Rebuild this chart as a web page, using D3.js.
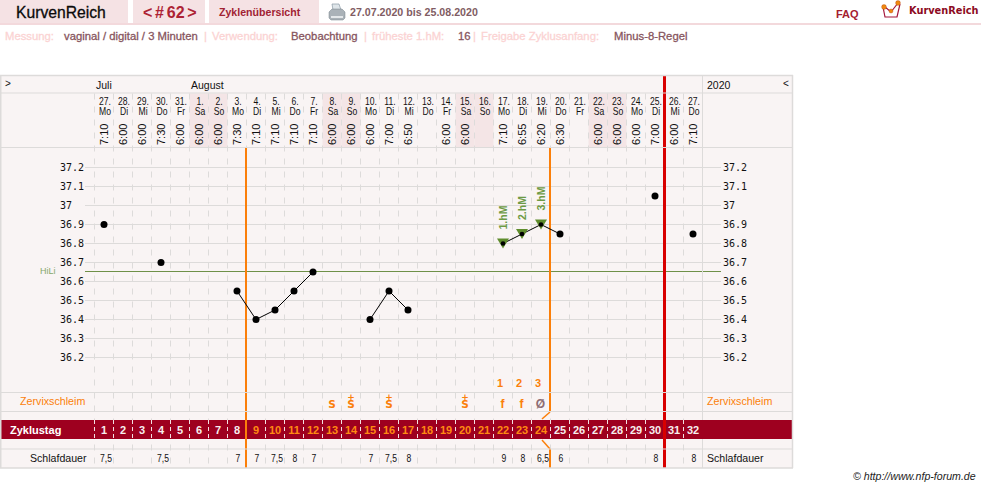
<!DOCTYPE html>
<html lang="de">
<head>
<meta charset="utf-8">
<title>KurvenReich</title>
<script src="https://cdn.jsdelivr.net/npm/d3@7/dist/d3.min.js"></script>
<style>
html,body{margin:0;padding:0;background:#fff;overflow:hidden}
svg{display:block}
text{font-family:"Liberation Sans",Arial,sans-serif}
.tick text{font-family:"DejaVu Sans Mono",monospace}
</style>
</head>
<body>
<svg id="chart" width="981" height="488"></svg>
<script>
// Cycle days
const cycleDays = d3.range(1, 33);
const dates = ["27.","28.","29.","30.","31.","1.","2.","3.","4.","5.","6.","7.","8.","9.","10.","11.","12.","13.","14.","15.","16.","17.","18.","19.","20.","21.","22.","23.","24.","25.","26.","27."];
const weekdays = ["Mo","Di","Mi","Do","Fr","Sa","So","Mo","Di","Mi","Do","Fr","Sa","So","Mo","Di","Mi","Do","Fr","Sa","So","Mo","Di","Mi","Do","Fr","Sa","So","Mo","Di","Mi","Do"];
const times = ["7:10","6:00","6:00","7:30","6:00","6:00","6:00","7:30","7:10","7:10","7:10","7:10","6:00","6:00","6:00","7:00","6:50","","6:00","6:00","","7:10","6:55","6:20","6:30","","6:00","6:00","6:00","7:00","6:00","7:10"];
const sleep = ["7,5","","","7,5","","","","7","7","7,5","8","7","","","7","7,5","8","","","","","9","8","6,5","6","","","","","8","","8"];

// Temperature readings; runs of consecutive days are joined by a line
const tempSeries = [
  [{d:1,t:36.9}],
  [{d:4,t:36.7}],
  [{d:8,t:36.55},{d:9,t:36.4},{d:10,t:36.45},{d:11,t:36.55},{d:12,t:36.65}],
  [{d:15,t:36.4},{d:16,t:36.55},{d:17,t:36.45}],
  [{d:22,t:36.8},{d:23,t:36.85},{d:24,t:36.9},{d:25,t:36.85}],
  [{d:30,t:37.05}],
  [{d:32,t:36.85}]
];
const highMeasures = [{d:22,t:36.8,label:"1.hM"},{d:23,t:36.85,label:"2.hM"},{d:24,t:36.9,label:"3.hM"}];
const yTicks = [36.2,36.3,36.4,36.5,36.6,36.7,36.8,36.9,37,37.1,37.2];
const coverLine = 36.65;

// Cervical mucus notation and peak counter
const mucusS = [{d:13,plus:false},{d:14,plus:true},{d:16,plus:true},{d:20,plus:true}];
const mucusOther = [{d:22,s:"f"},{d:23,s:"f"},{d:24,s:"Ø",dry:true}];
const peakCount = [{d:22,s:"1"},{d:23,s:"2"},{d:24,s:"3"}];
const fertileFirst = 9, fertileLast = 24, cycleEndAfter = 30;

const GRID = "#dddbda", BG = "#f9f4f4", ORANGE = "#fb7f0a", CRIMSON = "#9e001f",
      RED = "#d80000", GREEN = "#5f8c2c", SOFT = "#f5e2e4";

const svg = d3.select("#chart");
const x = d3.scaleBand().domain(cycleDays).range([94.5, 702.5]);
const y = d3.scaleLinear().domain([36.2, 37.2]).range([357.5, 167.5]);
const cx = d => x(d) + x.bandwidth() / 2;
const edge = d => x(d);

function label(s, px, py, o = {}) {
  return svg.append("text").attr("x", px).attr("y", py).text(s)
    .attr("font-size", o.size || 11).attr("fill", o.fill || "#111")
    .attr("font-weight", o.bold ? "bold" : null)
    .attr("text-anchor", o.anchor || "start")
    .attr("font-style", o.italic ? "italic" : null)
    .style("font-family", o.family || null);
}
// Narrow centred text used in the day columns
function narrow(s, px, py, size, fill, bold) {
  svg.append("text").text(s)
    .attr("transform", `translate(${px},${py}) scale(.86,1)`)
    .attr("text-anchor", "middle").attr("font-size", size)
    .attr("fill", fill || "#111").attr("font-weight", bold ? "bold" : null);
}

/* Page header */
[[0,128],[133,205],[209,319]].forEach(([a,b]) =>
  svg.append("rect").attr("x",a).attr("y",0).attr("width",b-a).attr("height",23).attr("fill",SOFT));
svg.append("rect").attr("x",0).attr("y",23).attr("width",981).attr("height",2).attr("fill","#f3d9dc");
label("KurvenReich", 16, 18, {size:15.7, fill:"#0a0a0a"}).attr("stroke","#0a0a0a").attr("stroke-width",.3);
label("< # 62 >", 143, 18, {size:16, bold:true, fill:"#ad2334"}).attr("word-spacing",-1.7);
label("Zyklenübersicht", 219, 16, {size:10.6, bold:true, fill:"#a12333"});
label("27.07.2020 bis 25.08.2020", 350, 16, {size:10.65, bold:true, fill:"#7f5c63"});
label("FAQ", 836, 18, {size:11, bold:true, fill:"#a4202f"});
label("KurvenReich", 909, 14, {size:9.8, bold:true, fill:"#8c0a22", family:"DejaVu Sans"});

// Printer icon
const pr = svg.append("g").attr("transform","translate(328,4)");
pr.append("path").attr("d","M4 0h7l2 6H5z").attr("fill","#dfe6ea").attr("stroke","#8b9aa5").attr("stroke-width",.7);
pr.append("path").attr("d","M1 8l3-3h10l3 3v6l-2 2H3l-2-2z").attr("fill","#aab2b8").attr("stroke","#77828a").attr("stroke-width",.5);
pr.append("rect").attr("x",3).attr("y",12).attr("width",12).attr("height",2).attr("fill","#e4e8ea");

// Brand mark
const lg = svg.append("g").attr("transform","translate(880,0)");
lg.append("path").attr("d","M3 7l2 10h12l3-13M5 7l6 5 7-9").attr("fill","none").attr("stroke","#a3153a").attr("stroke-width",1.2);
[[4,7,2.4],[11,11,2],[18,3,2.4]].forEach(([a,b,r]) =>
  lg.append("circle").attr("cx",a).attr("cy",b).attr("r",r).attr("fill","#f08a10").attr("stroke","#b5481a").attr("stroke-width",.4));

/* Settings line */
const PALE = "#fbd3d3", DARK = "#87555e";
[["Messung:",5,PALE],["vaginal / digital / 3 Minuten",64,DARK],["|",204,PALE],["Verwendung:",212,PALE],
 ["Beobachtung",291,DARK],["|",364,PALE],["früheste 1.hM:",372,PALE],["16",458,DARK],["|",473,PALE],
 ["Freigabe Zyklusanfang:",481,PALE],["Minus-8-Regel",614,DARK]].forEach(([s,px,c]) =>
  label(s, px, 40, {size:11.3, fill:c}).attr("stroke",c).attr("stroke-width",.3));

/* Chart panel */
svg.append("rect").attr("x",.5).attr("y",75.5).attr("width",792).attr("height",392.5).attr("fill",BG);

// Weekend shading in the date header
svg.append("g").selectAll("rect")
  .data(cycleDays.filter(d => weekdays[d-1] === "Sa" || weekdays[d-1] === "So"))
  .join("rect").attr("x",d => x(d)).attr("y",93.5).attr("width",x.bandwidth()).attr("height",54).attr("fill","#f4e5e6");

// Horizontal temperature grid
svg.append("g").selectAll("line").data(yTicks).join("line")
  .attr("x1",85).attr("x2",721).attr("y1",d => y(d)).attr("y2",d => y(d))
  .attr("stroke",GRID).attr("stroke-width",1);

// Day separators, dashed
svg.append("g").selectAll("line").data(cycleDays).join("line")
  .attr("x1",d => edge(d)).attr("x2",d => edge(d)).attr("y1",93.5).attr("y2",468)
  .attr("stroke",GRID).attr("stroke-dasharray","6,7");

// Cover line, snapped to a whole pixel row
svg.append("line").attr("x1",85).attr("x2",721).attr("y1",y(coverLine)-.5).attr("y2",y(coverLine)-.5)
  .attr("stroke","#6f9048").attr("stroke-width",1);
label("HiLi", 40, 274, {size:9, fill:"#86a86a"});

// Cycle day band
svg.append("rect").attr("x",1).attr("y",420).attr("width",791.5).attr("height",19).attr("fill",CRIMSON);
svg.append("g").selectAll("line").data(cycleDays).join("line")
  .attr("x1",d => edge(d)).attr("x2",d => edge(d)).attr("y1",420).attr("y2",439)
  .attr("stroke","#f3dfe2").attr("stroke-dasharray","4,3");

// Fertile window and cycle end markers
const fertileStart = edge(fertileFirst) - .5, fertileEnd = edge(fertileLast) + x.bandwidth() - .5;
svg.append("line").attr("x1",fertileStart).attr("x2",fertileStart).attr("y1",147.5).attr("y2",468)
  .attr("stroke",ORANGE).attr("stroke-width",2);
[[147.5,412],[449,468]].forEach(([a,b]) =>
  svg.append("line").attr("x1",fertileEnd).attr("x2",fertileEnd).attr("y1",a).attr("y2",b)
    .attr("stroke",ORANGE).attr("stroke-width",2));
[[412,419],[449,440]].forEach(([a,b]) =>
  svg.append("line").attr("x1",fertileEnd).attr("x2",fertileEnd-8).attr("y1",a).attr("y2",b)
    .attr("stroke",ORANGE).attr("stroke-width",1.5));
const endX = edge(cycleEndAfter) + x.bandwidth();
svg.append("line").attr("x1",endX).attr("x2",endX).attr("y1",75).attr("y2",468)
  .attr("stroke",RED).attr("stroke-width",3);

// Row borders sit above the markers
[93,147.5,392.5,411.5,449].forEach(v =>
  svg.append("line").attr("x1",0).attr("x2",793).attr("y1",v).attr("y2",v).attr("stroke",GRID).attr("stroke-width",1));
svg.append("line").attr("x1",0).attr("x2",793).attr("y1",468).attr("y2",468).attr("stroke",GRID).attr("stroke-width",1.5);
[.75,792.5].forEach(v =>
  svg.append("line").attr("x1",v).attr("x2",v).attr("y1",75).attr("y2",468).attr("stroke",GRID).attr("stroke-width",1.5));
svg.append("line").attr("x1",0).attr("x2",793).attr("y1",75.5).attr("y2",75.5).attr("stroke",GRID).attr("stroke-width",1.5);
svg.append("line").attr("x1",702.5).attr("x2",702.5).attr("y1",75).attr("y2",420).attr("stroke",GRID);
svg.append("line").attr("x1",702.5).attr("x2",702.5).attr("y1",439).attr("y2",468).attr("stroke",GRID);

/* Date header */
label(">", 5, 87, {size:10});
label("Juli", 96, 89, {size:10.5});
label("August", 191, 89, {size:10.5});
label("2020", 707, 89, {size:10.5});
label("<", 783, 87, {size:10});
cycleDays.forEach((d,i) => {
  narrow(dates[i], cx(d)+1, 105, 10);
  narrow(weekdays[i], cx(d)+1, 115, 10);
  if (times[i]) svg.append("text").text(times[i])
    .attr("transform",`translate(${cx(d)+4},145) rotate(-90)`)
    .attr("font-size",11).attr("fill","#111");
});

/* Temperature axes */
const fmt = d => String(+d.toFixed(1));
[[d3.axisLeft, 60],[d3.axisRight, 723]].forEach(([axis,px]) => {
  const g = svg.append("g").attr("transform",`translate(${px},0)`)
    .call(axis(y).tickValues(yTicks).tickFormat(fmt).tickSize(0).tickPadding(0));
  g.select(".domain").remove();
  g.selectAll("text").attr("font-size",10).attr("fill","#111").attr("text-anchor","start")
    .attr("x",0).attr("y",-1).attr("dy","0.36em");
});

/* Temperature curve */
const line = d3.line().x(p => cx(p.d)).y(p => y(p.t));
svg.append("g").selectAll("path").data(tempSeries.filter(s => s.length > 1)).join("path")
  .attr("d",line).attr("fill","none").attr("stroke","#000").attr("stroke-width",1);
const hm = new Set(highMeasures.map(h => h.d));
svg.append("g").selectAll("circle")
  .data(tempSeries.flat().filter(p => !hm.has(p.d))).join("circle")
  .attr("cx",p => cx(p.d)).attr("cy",p => y(p.t)).attr("r",3.5).attr("fill","#000");
highMeasures.forEach(h => {
  const px = cx(h.d), py = y(h.t);
  svg.append("path").attr("d",d3.line()([[px-6,py-5],[px+6,py-5],[px,py+5]])+"Z").attr("fill",GREEN);
  svg.append("circle").attr("cx",px).attr("cy",py).attr("r",2.3).attr("fill","#000");
  svg.append("text").text(h.label).attr("transform",`translate(${px+4},${py-14}) rotate(-90)`)
    .attr("font-size",10.5).attr("font-weight","bold").attr("fill","#6d9a45");
});

/* Lower rows */
label("Zervixschleim", 20, 405, {size:10.7, fill:ORANGE});
label("Zervixschleim", 707, 405, {size:10.7, fill:ORANGE});
label("Zyklustag", 10, 434, {size:11, bold:true, fill:"#fff"});
label("Schlafdauer", 30, 462, {size:10.6});
label("Schlafdauer", 707, 462, {size:10.6});

peakCount.forEach(p => label(p.s, cx(p.d)-3, 387, {size:11, bold:true, fill:ORANGE, anchor:"middle"}));
mucusS.forEach(m => {
  const t = label("S", cx(m.d), 408, {size:10.5, bold:true, fill:ORANGE, anchor:"middle", family:"DejaVu Sans"});
  if (m.plus) t.append("tspan").text("+").attr("x",cx(m.d)).attr("dy",-8).attr("font-size",9);
});
mucusOther.forEach(m => label(m.s, cx(m.d)-.5, 408, {size:12, bold:true, fill:m.dry ? "#8d6d75" : ORANGE, anchor:"middle"}));

cycleDays.forEach((d,i) => {
  const inWindow = d >= fertileFirst && d <= fertileLast;
  label(d, cx(d), 434, {size:11, bold:true, fill:inWindow ? "#ff8a12" : "#f7eeee", anchor:"middle"});
  if (sleep[i]) narrow(sleep[i], cx(d) + (sleep[i].length > 1 ? 2 : 1), 462, 10);
});

label("© http://www.nfp-forum.de", 853, 480, {size:10.6, italic:true, fill:"#222"});
</script>
</body>
</html>
